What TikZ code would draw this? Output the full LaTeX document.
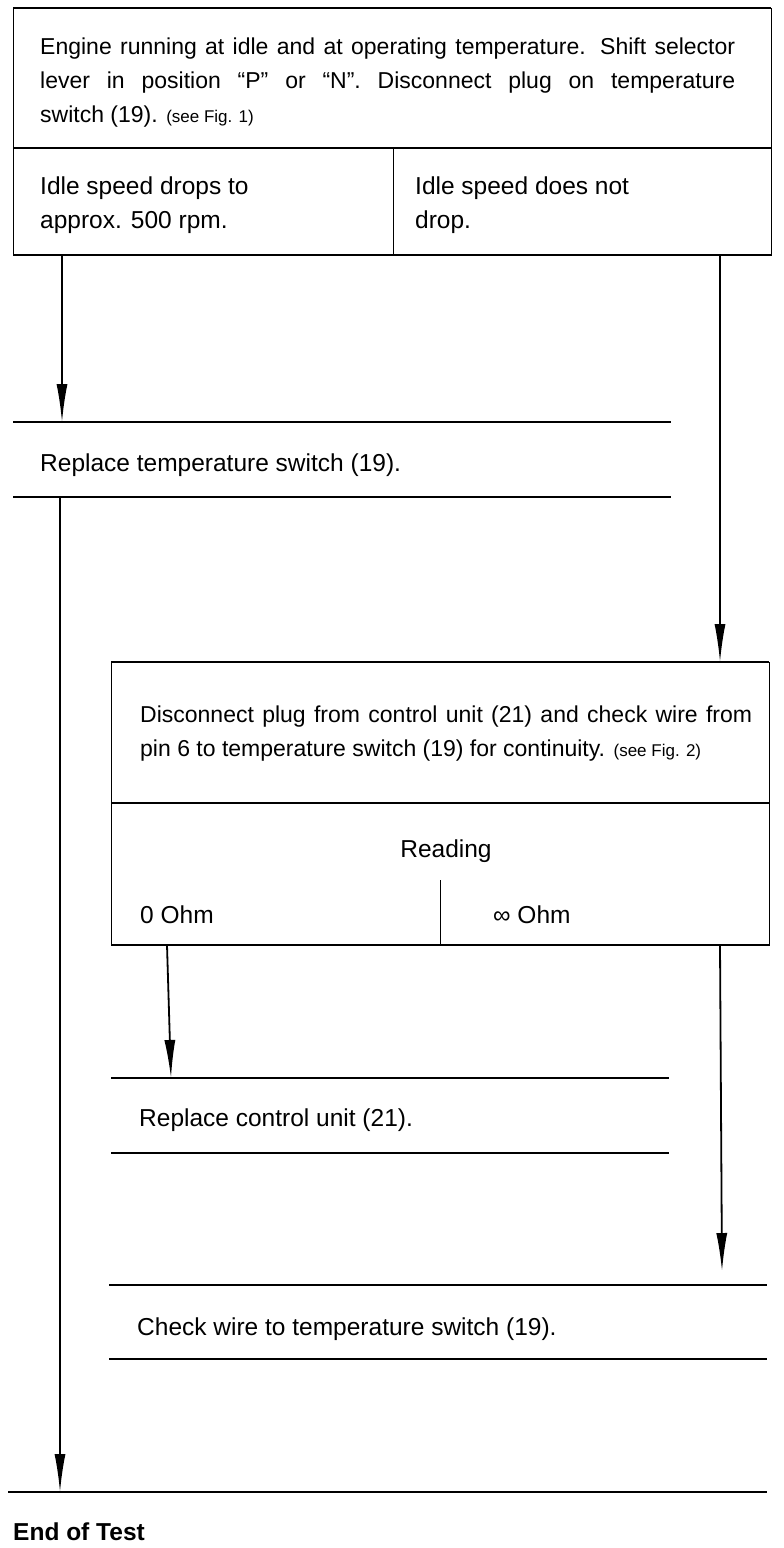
\documentclass[tikz,border=0pt]{standalone}
\usepackage{fontspec}
\setmainfont{Liberation Sans}
\usetikzlibrary{arrows.meta, positioning, calc}

\begin{document}
\begin{tikzpicture}[x=1pt, y=-1pt,
  rule/.style={line width=1.3pt},
  edge/.style={line width=1pt},
  txt/.style={anchor=base west, inner sep=0pt, font=\fontsize{24.5}{33}\selectfont},
  para/.style={anchor=north west, inner sep=0pt, align=justify, font=\fontsize{23}{34}\selectfont},
  flow/.style={line width=1.8pt, -{Latex[length=38pt,width=11pt]}}]
  \useasboundingbox (0,0) rectangle (784,1548);

  % Start box with the two outcomes
  \draw[edge] (13,8) rectangle (771,255);
  \draw[rule] (13,8) -- (771,8);
  \draw[rule] (13,148) -- (771,148);
  \draw[rule] (13,255) -- (771,255);
  \draw[edge] (393,148) -- (393,255);
  \node[para, text width=695pt] (start) at (40,38)
    {Engine running at idle and at operating temperature. Shift selector\linebreak
     lever in position “P” or “N”. Disconnect plug on temperature\linebreak
     switch (19). {\fontsize{17}{33}\selectfont (see Fig. 1)}};
  \node[para, align=left, font=\fontsize{24.5}{34}\selectfont] (drops) at (40,177) {Idle speed drops to\\approx. 500 rpm.};
  \node[para, align=left, font=\fontsize{24.5}{34}\selectfont] (nodrop) at (415,177) {Idle speed does not\\drop.};

  % Replace temperature switch
  \draw[rule] (13,422) -- (671,422);
  \draw[rule] (13,497) -- (671,497);
  \node[txt] (replsw) at (40,471) {Replace temperature switch (19).};

  % Check wire box
  \draw[edge] (111,662) rectangle (769,945);
  \draw[rule] (111,662) -- (769,662);
  \draw[rule] (111,803) -- (769,803);
  \draw[rule] (111,945) -- (769,945);
  \draw[edge] (440,880) -- (440,945);
  \node[para, text width=612pt] (check) at (140,706)
    {\parfillskip=0pt Disconnect plug from control unit (21) and check wire from\linebreak
     pin 6 to temperature switch (19) for continuity. {\fontsize{17}{33}\selectfont (see Fig. 2)}};
  \node[txt, anchor=base] (reading) at (446,857) {Reading};
  \node[txt] (zero) at (140,923) {0 Ohm};
  \node[txt] (inf) at (493,923) {∞ Ohm};

  % Replace control unit
  \draw[rule] (111,1078) -- (669,1078);
  \draw[rule] (111,1153) -- (669,1153);
  \node[txt] (replcu) at (139,1126) {Replace control unit (21).};

  % Check wire to temperature switch
  \draw[rule] (109,1285) -- (767,1285);
  \draw[rule] (109,1359) -- (767,1359);
  \node[txt] (wire) at (137,1335) {Check wire to temperature switch (19).};

  % End of test
  \draw[rule] (8,1492) -- (767,1492);
  \node[txt, font=\fontsize{24.5}{33}\selectfont\bfseries] (end) at (13,1540) {End of Test};

  % Arrow ends
  \coordinate (dropsOut) at (62,255);
  \coordinate (replswIn) at (62,422);
  \coordinate (replswOut) at (60,497);
  \coordinate (endIn) at (60,1492);
  \coordinate (nodropOut) at (720,255);
  \coordinate (checkIn) at (720,662);
  \coordinate (zeroOut) at (167,945);
  \coordinate (replcuIn) at (171,1078);
  \coordinate (infOut) at (720,945);
  \coordinate (wireIn) at (722,1271);

  % Arrows
  \draw[flow] (dropsOut) -- (replswIn);
  \draw[flow] (replswOut) -- (endIn);
  \draw[flow] (nodropOut) -- (checkIn);
  \draw[flow] (zeroOut) -- (replcuIn);
  \draw[flow] (infOut) -- (wireIn);
\end{tikzpicture}
\end{document}
